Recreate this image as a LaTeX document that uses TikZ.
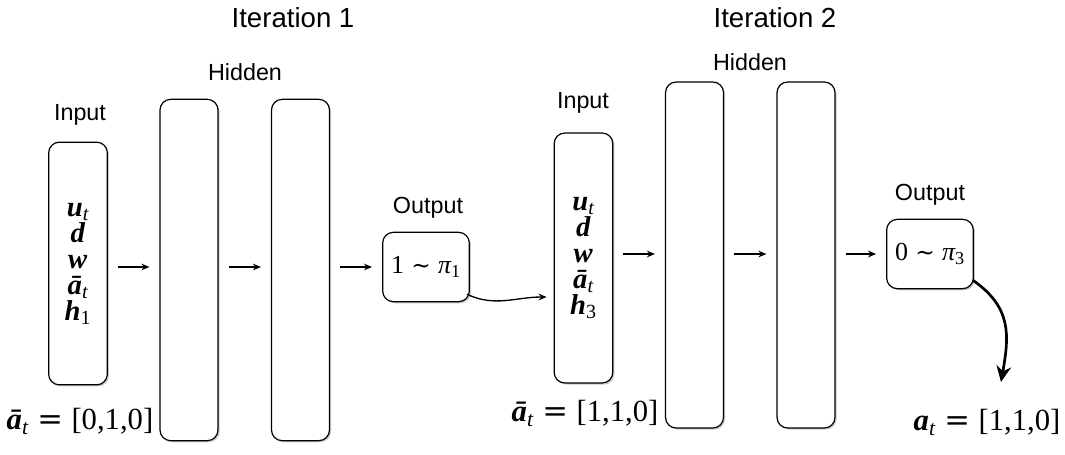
\documentclass[tikz,border=0pt]{standalone}
\usepackage{amsmath}
\usepackage{fontspec}
\setmainfont{Liberation Sans}
\newfontfamily\tms{Liberation Serif}
\newfontfamily\djv{DejaVu Serif}
\usetikzlibrary{shadows,arrows.meta,calc}

% bold italic vector with an optional italic subscript
\newcommand\bvec[2]{$\text{\tms\bfseries\itshape #1}_{\text{\tms\itshape #2}}$}
% bold italic vector with an upright numeric subscript
\newcommand\bvecn[2]{$\text{\tms\bfseries\itshape #1}_{\text{\tms #2}}$}
% sampled-from sign
\newcommand\smp{{\djv\fontsize{17.5}{17.5}\selectfont ∼}}
% equals sign of the action labels
\newcommand\eqs{\hspace{0.28em}{\djv =}\hspace{0.28em}}

\begin{document}
\begin{tikzpicture}[x=0.75pt,y=-0.75pt,
  layer/.style={draw,line width=0.9pt,rounded corners=8pt,fill=white,
    drop shadow={shadow xshift=1.2pt,shadow yshift=-1.2pt,opacity=0.3,fill=black!70}},
  hid/.style={layer,minimum width=43.5pt,minimum height=256pt,inner sep=0pt},
  inp/.style={layer,minimum width=44pt,align=center,inner sep=0pt,
    font=\fontsize{21.5}{19.5}\selectfont},
  outp/.style={layer,minimum width=65pt,minimum height=52pt,inner sep=0pt,
    font=\fontsize{19.5}{19.5}\selectfont},
  title/.style={font=\fontsize{20.7}{24}\selectfont},
  lbl/.style={font=\fontsize{17.5}{20}\selectfont},
  eqn/.style={font=\fontsize{23}{26}\selectfont},
  flow/.style={-{Stealth[length=6pt,width=5pt]},line width=1pt,shorten <=7.5pt,shorten >=7.5pt},
]
\useasboundingbox (0,0) rectangle (1065,454);

% iteration 1
\node[title] (t1) at (293,18) {Iteration 1};
\node[lbl] (hl1) at (245,72) {Hidden};
\node[lbl] (il1) at (80,115) {Input};
\node[lbl] (ol1) at (428,208) {Output};
\node[inp,minimum height=182pt] (in1) at (78,263.5)
  {\bvec{u}{t}\\ \bvec{d}{}\\ \bvec{w}{}\\ \bvec{ā}{t}\\ \bvecn{h}{1}};
\node[hid] (h1) at (189,270) {};
\node[hid] (h2) at (300.5,270) {};
\node[outp] (out1) at (426,267) {{\tms 1} \smp{} \bvecn{\mdseries π}{1}};

% iteration 2
\node[title] (t2) at (775,18) {Iteration 2};
\node[lbl] (hl2) at (750,62) {Hidden};
\node[lbl] (il2) at (583,103) {Input};
\node[lbl] (ol2) at (930,195) {Output};
\node[inp,minimum height=187.5pt] (in2) at (583.5,258)
  {\bvec{u}{t}\\ \bvec{d}{}\\ \bvec{w}{}\\ \bvec{ā}{t}\\ \bvecn{h}{3}};
\node[hid,minimum height=259.5pt] (h3) at (694.5,255) {};
\node[hid,minimum height=259.5pt] (h4) at (806,255) {};
\node[outp] (out2) at (930,254) {{\tms 0} \smp{} \bvecn{\mdseries π}{3}};

% action labels
\node[eqn] (a1) at (80,421) {\bvec{ā}{t}{\tms\eqs[0,1,0]}};
\node[eqn] (a2) at (585,413) {\bvec{ā}{t}{\tms\eqs[1,1,0]}};
\node[eqn] (a3) at (987,422) {\bvec{a}{t}{\tms\eqs[1,1,0]}};

% forward connections
\draw[flow] (in1.east |- out1) -- (h1.west |- out1);
\draw[flow] (h1.east |- out1) -- (h2.west |- out1);
\draw[flow] (h2.east |- out1) -- (out1.west);
\draw[flow] (in2.east |- out2) -- (h3.west |- out2);
\draw[flow] (h3.east |- out2) -- (h4.west |- out2);
\draw[flow] (h4.east |- out2) -- (out2.west);

% sampled output fed back / emitted
\coordinate (fb) at ($(in2.west)+(-7,39)$);
\draw[-{Stealth[length=6pt,width=5pt]},line width=1pt]
  ($(out1.south east)+(-3,-8)$) to[out=-25,in=180] (fb);
\coordinate (act) at (1001,382);
\draw[-{Stealth[length=12pt,width=11pt]},line width=2pt]
  ($(out2.south east)+(-1,-9)$) to[out=-35,in=80,looseness=1.15] (act);
\end{tikzpicture}
\end{document}
